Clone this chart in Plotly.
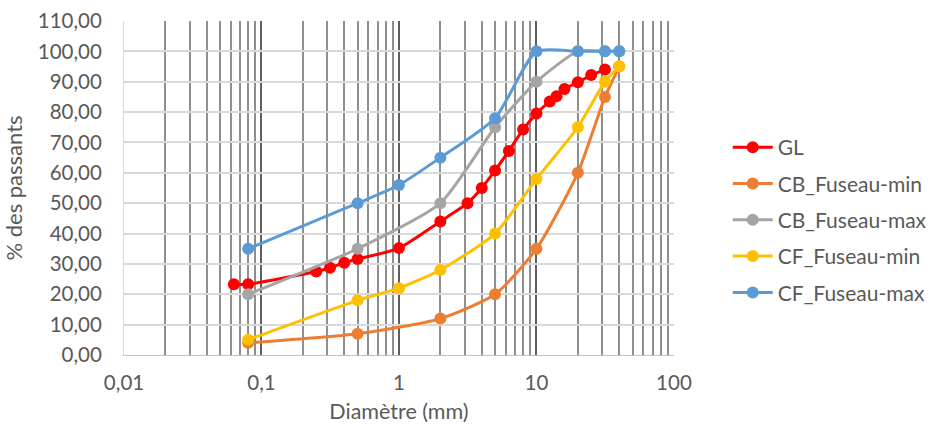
import plotly.graph_objects as go

# ---- data ----
gl_x = [0.063, 0.08, 0.25, 0.315, 0.4, 0.5, 1, 2, 3.15, 4, 5, 6.3, 8, 10, 12.5, 14, 16, 20, 25, 31.5]
gl_y = [23.3, 23.3, 27.5, 28.7, 30.4, 31.6, 35.2, 44.0, 50.0, 55.0, 60.8, 67.2, 74.3, 79.5, 83.5, 85.2, 87.6, 89.8, 92.2, 94.0]

cb_min_x = [0.08, 0.5, 2, 5, 10, 20, 31.5, 40]
cb_min_y = [4, 7, 12, 20, 35, 60, 85, 95]
cb_max_x = [0.08, 0.5, 2, 5, 10, 20, 31.5, 40]
cb_max_y = [20, 35, 50, 75, 90, 100, 100, 100]
cf_min_x = [0.08, 0.5, 1, 2, 5, 10, 20, 31.5, 40]
cf_min_y = [5, 18, 22, 28, 40, 58, 75, 90, 95]
cf_max_x = [0.08, 0.5, 1, 2, 5, 10, 20, 31.5, 40]
cf_max_y = [35, 50, 56, 65, 78, 100, 100, 100, 100]

x_tickvals = [0.01, 0.1, 1, 10, 100]
x_ticktext = ["0,01", "0,1", "1", "10", "100"]

series = [
    ("GL", gl_x, gl_y, "#FF0000"),
    ("CB_Fuseau-min", cb_min_x, cb_min_y, "#ED7D31"),
    ("CB_Fuseau-max", cb_max_x, cb_max_y, "#A5A5A5"),
    ("CF_Fuseau-min", cf_min_x, cf_min_y, "#FFC000"),
    ("CF_Fuseau-max", cf_max_x, cf_max_y, "#5B9BD5"),
]

FONT = "Lato"
TXT = "#595959"

fig = go.Figure()
for name, xs, ys, col in series:
    fig.add_trace(go.Scatter(
        x=xs, y=ys, name=name, mode="lines+markers",
        line=dict(color=col, width=3, shape="spline", smoothing=0.6),
        marker=dict(color=col, size=12),
        legendgroup=name,
    ))

minor_vals = [k * 10.0 ** e for e in range(-2, 2) for k in range(2, 10)]

W, H = 932, 425
ML, MT, MB = 124, 21, 70
PLOT_RIGHT = 676
paper_w = W - ML
x_dom_end = (PLOT_RIGHT - ML) / paper_w
legend_left = 730

fig.update_layout(
    width=W, height=H,
    margin=dict(l=ML, r=0, t=MT, b=MB),
    paper_bgcolor="white", plot_bgcolor="white",
    font=dict(family=FONT, size=20, color=TXT),
    separators=", ",
    showlegend=True,
    legend=dict(x=(legend_left - ML) / paper_w, y=0.404, xanchor="left", yanchor="middle",
                font=dict(family=FONT, size=21, color=TXT),
                tracegroupgap=6, itemwidth=40,
                bgcolor="rgba(0,0,0,0)"),
)
fig.update_xaxes(
    type="log", range=[-2, 2], automargin=False, domain=[0, x_dom_end],
    tickmode="array", tickvals=x_tickvals, ticktext=x_ticktext,
    showgrid=True, gridcolor="#5E5E5E", gridwidth=1.8,
    minor=dict(tickmode="array", tickvals=minor_vals, showgrid=True,
               gridcolor="#8E8E8E", gridwidth=1.5),
    showline=True, linecolor="#BFBFBF", linewidth=1,
    ticks="", ticklabelstandoff=9,
    tickfont=dict(family=FONT, size=20.5, color=TXT),
    title=dict(text="Diamètre (mm)", font=dict(family=FONT, size=21.5, color=TXT), standoff=11),
    zeroline=False,
)
fig.update_yaxes(
    range=[0, 110], dtick=10, tick0=0, tickformat=".2f", automargin=False,
    showgrid=True, gridcolor="#D9D9D9", gridwidth=1.5,
    showline=True, linecolor="#D9D9D9", linewidth=1,
    ticks="", ticklabelstandoff=17,
    tickfont=dict(family=FONT, size=20.5, color=TXT),
    title=dict(text="% des passants", font=dict(family=FONT, size=22, color=TXT), standoff=9),
    zeroline=False,
)

fig.write_html("out.html", config={"displayModeBar": False},
               post_script="document.body.style.margin='0';")
